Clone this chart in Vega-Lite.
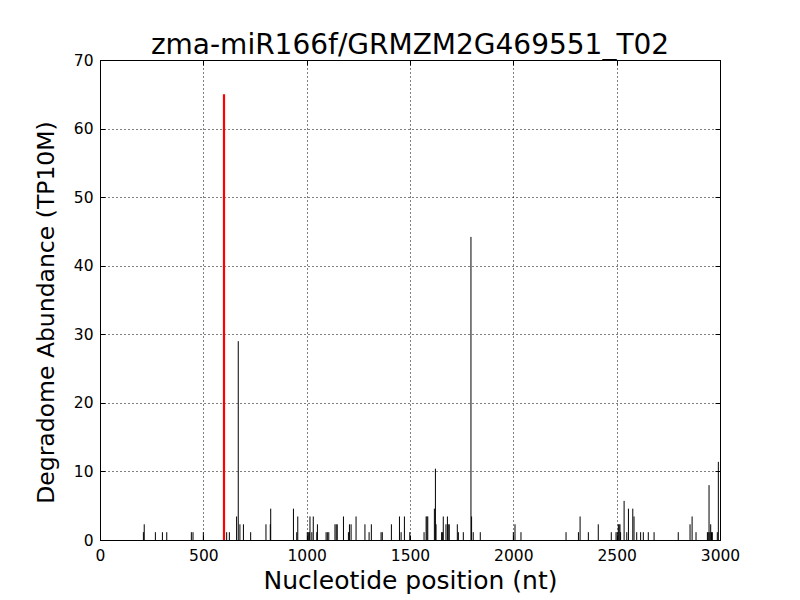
{
  "$schema": "https://vega.github.io/schema/vega-lite/v6.json",
  "autosize": "none",
  "width": 620,
  "height": 480,
  "padding": {"left": 100, "top": 60, "right": 80, "bottom": 60},
  "background": "white",
  "config": {
    "font": "DejaVu Sans",
    "view": {"stroke": "black", "strokeWidth": 1},
    "axis": {"labelFont": "DejaVu Sans", "titleFont": "DejaVu Sans", "labelColor": "black", "titleColor": "black", "titleFontWeight": "normal", "domainColor": "black", "tickColor": "black"}
  },
  "title": {"text": "zma-miR166f/GRMZM2G469551_T02", "fontSize": 28, "fontWeight": "normal", "font": "DejaVu Sans", "color": "black", "anchor": "middle", "baseline": "alphabetic", "offset": -29},
  "data": {"values": [
    {"pos": 210, "ab": 1.14, "kind": "other"},
    {"pos": 214, "ab": 2.29, "kind": "other"},
    {"pos": 268, "ab": 1.14, "kind": "other"},
    {"pos": 302, "ab": 1.14, "kind": "other"},
    {"pos": 323, "ab": 1.14, "kind": "other"},
    {"pos": 442, "ab": 1.14, "kind": "other"},
    {"pos": 450, "ab": 1.14, "kind": "other"},
    {"pos": 500, "ab": 1.14, "kind": "other"},
    {"pos": 613, "ab": 1.14, "kind": "other"},
    {"pos": 626, "ab": 1.14, "kind": "other"},
    {"pos": 661, "ab": 3.43, "kind": "other"},
    {"pos": 669, "ab": 29, "kind": "other"},
    {"pos": 677, "ab": 2.29, "kind": "other"},
    {"pos": 694, "ab": 2.29, "kind": "other"},
    {"pos": 729, "ab": 1.14, "kind": "other"},
    {"pos": 803, "ab": 2.29, "kind": "other"},
    {"pos": 824, "ab": 2.29, "kind": "other"},
    {"pos": 826, "ab": 4.57, "kind": "other"},
    {"pos": 936, "ab": 4.57, "kind": "other"},
    {"pos": 952, "ab": 1.14, "kind": "other"},
    {"pos": 957, "ab": 3.43, "kind": "other"},
    {"pos": 1003, "ab": 1.14, "kind": "other"},
    {"pos": 1008, "ab": 1.14, "kind": "other"},
    {"pos": 1013, "ab": 1.14, "kind": "other"},
    {"pos": 1016, "ab": 3.43, "kind": "other"},
    {"pos": 1025, "ab": 1.14, "kind": "other"},
    {"pos": 1032, "ab": 3.43, "kind": "other"},
    {"pos": 1049, "ab": 1.14, "kind": "other"},
    {"pos": 1052, "ab": 2.29, "kind": "other"},
    {"pos": 1094, "ab": 1.14, "kind": "other"},
    {"pos": 1100, "ab": 1.14, "kind": "other"},
    {"pos": 1107, "ab": 1.14, "kind": "other"},
    {"pos": 1137, "ab": 2.29, "kind": "other"},
    {"pos": 1143, "ab": 2.29, "kind": "other"},
    {"pos": 1148, "ab": 2.29, "kind": "other"},
    {"pos": 1178, "ab": 3.43, "kind": "other"},
    {"pos": 1202, "ab": 1.14, "kind": "other"},
    {"pos": 1207, "ab": 2.29, "kind": "other"},
    {"pos": 1215, "ab": 2.29, "kind": "other"},
    {"pos": 1239, "ab": 3.43, "kind": "other"},
    {"pos": 1282, "ab": 2.29, "kind": "other"},
    {"pos": 1302, "ab": 1.14, "kind": "other"},
    {"pos": 1313, "ab": 2.29, "kind": "other"},
    {"pos": 1360, "ab": 1.14, "kind": "other"},
    {"pos": 1366, "ab": 1.14, "kind": "other"},
    {"pos": 1410, "ab": 2.29, "kind": "other"},
    {"pos": 1449, "ab": 3.43, "kind": "other"},
    {"pos": 1457, "ab": 1.14, "kind": "other"},
    {"pos": 1473, "ab": 3.43, "kind": "other"},
    {"pos": 1499, "ab": 1.14, "kind": "other"},
    {"pos": 1568, "ab": 1.14, "kind": "other"},
    {"pos": 1578, "ab": 3.43, "kind": "other"},
    {"pos": 1582, "ab": 3.43, "kind": "other"},
    {"pos": 1586, "ab": 3.43, "kind": "other"},
    {"pos": 1618, "ab": 4.57, "kind": "other"},
    {"pos": 1623, "ab": 10.4, "kind": "other"},
    {"pos": 1626, "ab": 2.29, "kind": "other"},
    {"pos": 1653, "ab": 1.14, "kind": "other"},
    {"pos": 1658, "ab": 1.14, "kind": "other"},
    {"pos": 1661, "ab": 3.43, "kind": "other"},
    {"pos": 1674, "ab": 2.29, "kind": "other"},
    {"pos": 1681, "ab": 3.43, "kind": "other"},
    {"pos": 1685, "ab": 2.29, "kind": "other"},
    {"pos": 1690, "ab": 2.29, "kind": "other"},
    {"pos": 1729, "ab": 2.29, "kind": "other"},
    {"pos": 1734, "ab": 1.14, "kind": "other"},
    {"pos": 1758, "ab": 1.14, "kind": "other"},
    {"pos": 1795, "ab": 44.2, "kind": "other"},
    {"pos": 1798, "ab": 3.43, "kind": "other"},
    {"pos": 1806, "ab": 1.14, "kind": "other"},
    {"pos": 1840, "ab": 1.14, "kind": "other"},
    {"pos": 2000, "ab": 1.14, "kind": "other"},
    {"pos": 2008, "ab": 2.29, "kind": "other"},
    {"pos": 2037, "ab": 1.14, "kind": "other"},
    {"pos": 2255, "ab": 1.14, "kind": "other"},
    {"pos": 2315, "ab": 1.14, "kind": "other"},
    {"pos": 2323, "ab": 3.43, "kind": "other"},
    {"pos": 2363, "ab": 1.14, "kind": "other"},
    {"pos": 2411, "ab": 2.29, "kind": "other"},
    {"pos": 2474, "ab": 1.14, "kind": "other"},
    {"pos": 2497, "ab": 1.14, "kind": "other"},
    {"pos": 2503, "ab": 1.14, "kind": "other"},
    {"pos": 2508, "ab": 2.29, "kind": "other"},
    {"pos": 2512, "ab": 2.29, "kind": "other"},
    {"pos": 2516, "ab": 2.29, "kind": "other"},
    {"pos": 2519, "ab": 1.14, "kind": "other"},
    {"pos": 2536, "ab": 5.71, "kind": "other"},
    {"pos": 2549, "ab": 1.14, "kind": "other"},
    {"pos": 2557, "ab": 4.57, "kind": "other"},
    {"pos": 2578, "ab": 4.57, "kind": "other"},
    {"pos": 2584, "ab": 3.43, "kind": "other"},
    {"pos": 2597, "ab": 1.14, "kind": "other"},
    {"pos": 2616, "ab": 1.14, "kind": "other"},
    {"pos": 2629, "ab": 1.14, "kind": "other"},
    {"pos": 2653, "ab": 1.14, "kind": "other"},
    {"pos": 2681, "ab": 1.14, "kind": "other"},
    {"pos": 2798, "ab": 1.14, "kind": "other"},
    {"pos": 2855, "ab": 2.29, "kind": "other"},
    {"pos": 2865, "ab": 3.43, "kind": "other"},
    {"pos": 2884, "ab": 1.14, "kind": "other"},
    {"pos": 2939, "ab": 1.14, "kind": "other"},
    {"pos": 2943, "ab": 1.14, "kind": "other"},
    {"pos": 2947, "ab": 8.0, "kind": "other"},
    {"pos": 2951, "ab": 1.14, "kind": "other"},
    {"pos": 2955, "ab": 2.29, "kind": "other"},
    {"pos": 2959, "ab": 1.14, "kind": "other"},
    {"pos": 2963, "ab": 1.14, "kind": "other"},
    {"pos": 2987, "ab": 1.14, "kind": "other"},
    {"pos": 2992, "ab": 11.4, "kind": "other"},
    {"pos": 600, "ab": 65, "kind": "target"}
  ]},
  "resolve": {"axis": {"x": "independent", "y": "independent"}},
  "layer": [
    {
      "mark": {"type": "rule"},
      "encoding": {
        "x": {"field": "pos", "type": "quantitative", "scale": {"domain": [0, 3000], "nice": false},
              "axis": {"title": "Nucleotide position (nt)", "format": "d", "values": [0, 500, 1000, 1500, 2000, 2500, 3000], "labelFontSize": 15.5, "titleFontSize": 25, "tickSize": -5, "labelPadding": 13, "titlePadding": 5, "grid": true, "gridColor": "black", "gridDash": [1, 3], "gridOpacity": 1, "gridWidth": 1, "labelFlush": false}},
        "y": {"field": "ab", "type": "quantitative", "scale": {"domain": [0, 70], "nice": false},
              "axis": {"title": "Degradome Abundance (TP10M)", "format": "d", "values": [0, 10, 20, 30, 40, 50, 60, 70], "labelFontSize": 15.5, "titleFontSize": 23.5, "titleY": 252, "tickSize": -5, "labelPadding": 12, "titlePadding": 15, "grid": true, "gridColor": "black", "gridDash": [1, 3], "gridOpacity": 1, "gridWidth": 1, "labelFlush": false}},
        "y2": {"datum": 0},
        "color": {"field": "kind", "type": "nominal", "scale": {"domain": ["other", "target"], "range": ["black", "red"]}, "legend": null},
        "strokeWidth": {"field": "kind", "type": "nominal", "scale": {"domain": ["other", "target"], "range": [1, 2.2]}, "legend": null}
      }
    },
    {
      "mark": {"type": "rule", "opacity": 0},
      "encoding": {
        "x": {"field": "pos", "type": "quantitative", "axis": {"orient": "top", "title": null, "labels": false, "values": [0, 500, 1000, 1500, 2000, 2500, 3000], "tickSize": -5, "grid": false}},
        "y": {"field": "ab", "type": "quantitative", "axis": {"orient": "right", "title": null, "labels": false, "values": [0, 10, 20, 30, 40, 50, 60, 70], "tickSize": -5, "grid": false}},
        "y2": {"datum": 0}
      }
    }
  ]
}
